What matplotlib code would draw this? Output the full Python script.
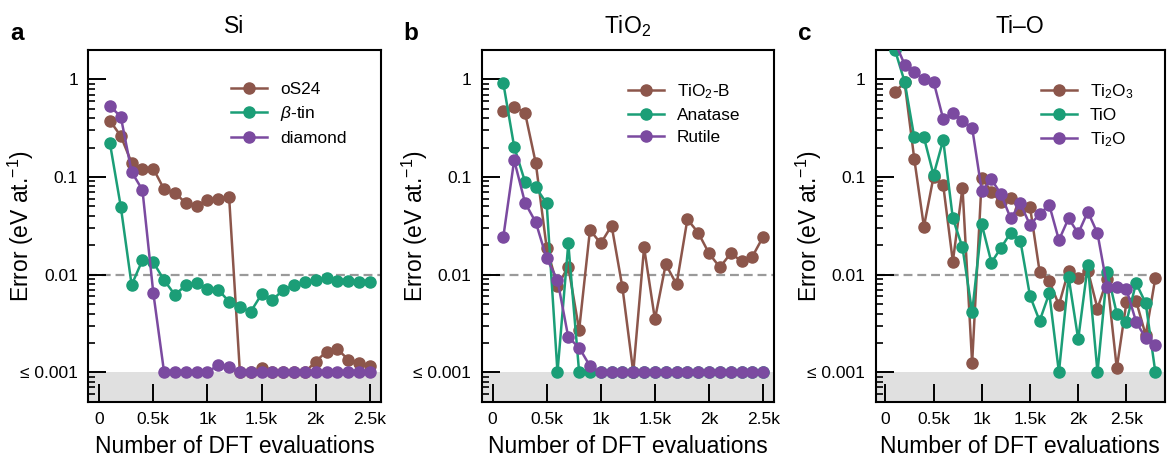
import matplotlib
matplotlib.use("Agg")
import matplotlib.pyplot as plt
from matplotlib.ticker import FixedLocator, LogLocator, NullFormatter

plt.rcParams['font.family'] = ['Liberation Sans', 'DejaVu Sans']
plt.rcParams['mathtext.fontset'] = 'custom'
plt.rcParams['mathtext.rm'] = 'Liberation Sans'
plt.rcParams['mathtext.it'] = 'Liberation Sans:italic'
plt.rcParams['mathtext.bf'] = 'Liberation Sans:bold'

# ---- data (errors in eV/atom, 0.001 means <= 0.001) ----
si_x = [100 * i for i in range(1, 26)]
si_os24 = [0.377, 0.263, 0.140, 0.122, 0.122, 0.0748, 0.069, 0.054, 0.051, 0.058,
           0.059, 0.063, 0.001, 0.001, 0.0011, 0.001, 0.001, 0.001, 0.001, 0.00129,
           0.00163, 0.00173, 0.00135, 0.00125, 0.00117]
si_btin = [0.221, 0.0497, 0.00784, 0.0141, 0.0134, 0.0088, 0.0062, 0.0078, 0.0082, 0.00713,
           0.0070, 0.0053, 0.00463, 0.00418, 0.0063, 0.0055, 0.0070, 0.0078, 0.0084, 0.0088,
           0.0092, 0.0086, 0.0086, 0.0084, 0.0084]
si_diamond = [0.533, 0.415, 0.113, 0.0736, 0.00654, 0.001, 0.001, 0.001, 0.001, 0.001,
              0.00119, 0.00113, 0.001, 0.001, 0.001, 0.001, 0.001, 0.001, 0.001, 0.001,
              0.001, 0.001, 0.001, 0.001, 0.001]

tio2_x = [100 * i for i in range(1, 26)]
tio2_b = [0.474, 0.525, 0.456, 0.138, 0.0189, 0.00766, 0.0121, 0.00271, 0.0287, 0.0209,
          0.0318, 0.0074, 0.001, 0.019, 0.00349, 0.0128, 0.00795, 0.0369, 0.0269, 0.0165,
          0.0119, 0.0165, 0.0138, 0.0153, 0.0245]
tio2_anatase = [0.91, 0.204, 0.0896, 0.0784, 0.0537, 0.001, 0.0209, 0.001, 0.001, 0.001,
                0.001, 0.001, 0.001, 0.001, 0.001, 0.001, 0.001, 0.001, 0.001, 0.001,
                0.001, 0.001, 0.001, 0.001, 0.001]
tio2_rutile = [0.0245, 0.149, 0.0546, 0.0343, 0.0147, 0.0088, 0.00228, 0.00179, 0.00116, 0.001,
               0.001, 0.001, 0.001, 0.001, 0.001, 0.001, 0.001, 0.001, 0.001, 0.001,
               0.001, 0.001, 0.001, 0.001, 0.001]

tio_x = [100 * i for i in range(1, 29)]
ti2o3 = [0.748, 0.93, 0.153, 0.031, 0.1007, 0.0828, 0.0136, 0.078, 0.00124, 0.0984,
         0.0708, 0.055, 0.0605, 0.046, 0.0497, 0.0107, 0.0086, 0.0049, 0.011, 0.0093,
         0.011, 0.0045, 0.009, 0.0011, 0.0052, 0.0054, 0.0024, 0.0093]
tio = [2.0, 0.946, 0.255, 0.255, 0.105, 0.239, 0.0377, 0.019, 0.00411, 0.0328,
       0.0133, 0.0189, 0.0269, 0.0223, 0.00605, 0.00336, 0.00645, 0.001, 0.0095, 0.00218,
       0.0126, 0.001, 0.0107, 0.0040, 0.0033, 0.0082, 0.0051, 0.001]
ti2o = [2.4, 1.42, 1.2, 1.0, 0.95, 0.393, 0.456, 0.374, 0.32, 0.072,
        0.0946, 0.0665, 0.0377, 0.0537, 0.0323, 0.0418, 0.0517, 0.0226, 0.0377, 0.0265,
        0.0442, 0.0265, 0.0075, 0.0074, 0.0071, 0.0033, 0.00223, 0.0019]

panels = [
    ("a", "Si", si_x, [si_os24, si_btin, si_diamond],
     ["oS24", r"$\beta$-tin", "diamond"], (-100, 2600)),
    ("b", r"TiO$_2$", tio2_x, [tio2_b, tio2_anatase, tio2_rutile],
     [r"TiO$_2$-B", "Anatase", "Rutile"], (-100, 2600)),
    ("c", "Ti\u2013O", tio_x, [ti2o3, tio, ti2o],
     [r"Ti$_2$O$_3$", "TiO", r"Ti$_2$O"], (-100, 2900)),
]
colors = ["#8c564b", "#1b9e77", "#7b4aa0"]

fig = plt.figure(figsize=(11.67, 4.57), dpi=100)
W, H = 1167, 457
lefts = [88.3, 481.7, 875.7]
widths = [292.4, 292.3, 289.3]
leg_x = [231, 627.7, 1041]   # legend handle start, pixels

for k, (letter, title, xs, series, labels, xlim) in enumerate(panels):
    ax = fig.add_axes([lefts[k] / W, 1 - 401.7 / H, widths[k] / W, 351.7 / H])
    ax.set_yscale("log")
    ylo, yhi = 5e-4, 2.0
    ax.axhspan(ylo, 1e-3, color="#e0e0e0", zorder=0, lw=0)
    ax.axhline(0.01, color="#9a9a9a", lw=1.6, dashes=(4, 2.2), zorder=1)
    for ys, lab, c in zip(series, labels, colors):
        ax.plot(xs, ys, "-o", color=c, lw=1.8, ms=8, label=lab, zorder=3)
    ax.set_xlim(*xlim)
    ax.set_ylim(ylo, yhi)

    ax.xaxis.set_major_locator(FixedLocator([0, 500, 1000, 1500, 2000, 2500]))
    ax.set_xticklabels(["0", "0.5k", "1k", "1.5k", "2k", "2.5k"])
    ax.yaxis.set_major_locator(FixedLocator([1e-3, 1e-2, 1e-1, 1]))
    ax.set_yticklabels(["\u2264 0.001", "0.01", "0.1", "1"])
    ax.yaxis.set_minor_locator(LogLocator(base=10, subs=range(2, 10)))
    ax.yaxis.set_minor_formatter(NullFormatter())
    ax.tick_params(which="major", direction="in", length=12.7, width=1.4,
                   labelsize=12.5, pad=7.5)
    ax.tick_params(which="minor", direction="in", length=4.8, width=1.2)
    ax.tick_params(axis="x", which="minor", bottom=False)
    for s in ax.spines.values():
        s.set_linewidth(1.5)

    ax.set_xlabel("Number of DFT evaluations", fontsize=16.5, labelpad=6)
    ax.set_ylabel(r"Error (eV at.$^{-1}$)", fontsize=16.5)
    ax.yaxis.set_label_coords(-52 / widths[k], 0.5)
    ax.set_title(title, fontsize=16.5, pad=12)
    ax.legend(loc="upper left", frameon=False, fontsize=12.4,
              bbox_to_anchor=((leg_x[k] - lefts[k]) / widths[k], (401.7 - 82) / 351.7),
              borderaxespad=0, borderpad=0,
              handlelength=2.1, handletextpad=0.75, labelspacing=0.42)

    fig.text((lefts[k] - 71) / W, 1 - 33 / H, letter, fontsize=17.5,
             fontweight="bold", ha="center", va="center")

fig.savefig("out.png", dpi=100)
